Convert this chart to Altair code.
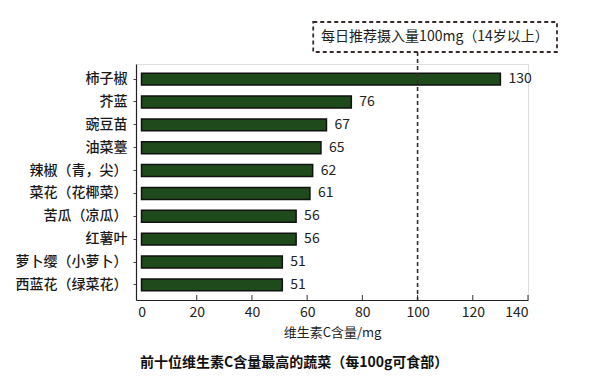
import altair as alt
import pandas as pd

names = ["柿子椒", "芥蓝", "豌豆苗", "油菜薹", "辣椒（青，尖）", "菜花（花椰菜）",
         "苦瓜（凉瓜）", "红薯叶", "萝卜缨（小萝卜）", "西蓝花（绿菜花）"]
values = [130, 76, 67, 65, 62, 61, 56, 56, 51, 51]
x_ticks = [0, 20, 40, 60, 80, 100, 120, 140]
ref_value = 100
ref_label = "每日推荐摄入量100mg（14岁以上）"

FONT = "Noto Sans CJK SC"
df = pd.DataFrame({"name": names, "value": values})

xscale = alt.Scale(domain=[-2, 140], nice=False, zero=False)
yscale = alt.Scale(domain=names, paddingInner=0.48, paddingOuter=0.4)

bars = alt.Chart(df).mark_bar(color="#1f4a1c", stroke="#111111", strokeWidth=1.5).encode(
    x=alt.X("value:Q", scale=xscale,
            axis=alt.Axis(values=x_ticks, title="维生素C含量/mg", grid=False, ticks=False,
                          labelFontSize=14, labelFont=FONT, labelColor="#222222", labelPadding=5,
                          titleFont=FONT, titleFontSize=13, titleFontWeight="normal",
                          titleColor="#222222", titlePadding=7,
                          domainColor="#222222", domainWidth=1.2)),
    x2=alt.datum(0),
    y=alt.Y("name:N", scale=yscale, sort=names,
            axis=alt.Axis(title=None, labelFontSize=14, labelFont=FONT, labelColor="#1a1a1a",
                          labelFontWeight=500, labelPadding=6, tickSize=3, tickColor="#444444",
                          domainColor="#222222", domainWidth=1.2)),
)

labels = alt.Chart(df).mark_text(align="left", dx=8, fontSize=14, font=FONT, color="#222222").encode(
    x=alt.X("value:Q", scale=xscale),
    y=alt.Y("name:N", scale=yscale, sort=names),
    text="value:Q",
)

tick_df = pd.DataFrame({"t": x_ticks[1:]})
ticks = alt.Chart(tick_df).mark_rule(color="#333333", strokeWidth=1).encode(
    x=alt.X("t:Q", scale=xscale),
    y=alt.value(231), y2=alt.value(236),
)

ref_df = pd.DataFrame({"v": [ref_value]})
ref_line = alt.Chart(ref_df).mark_rule(color="#3a2a2a", strokeWidth=1.6, strokeDash=[4, 3]).encode(
    x=alt.X("v:Q", scale=xscale),
    y=alt.value(-12), y2=alt.value(236),
)

box_df = pd.DataFrame({"x1": [62.2], "x2": [150.5], "xc": [106.3], "label": [ref_label]})
box = alt.Chart(box_df).mark_rect(fill="white", fillOpacity=0, stroke="#3a2a2a",
                                  strokeWidth=1.8, strokeDash=[4, 3]).encode(
    x=alt.X("x1:Q", scale=xscale), x2="x2:Q",
    y=alt.value(-42), y2=alt.value(-12),
)
box_text = alt.Chart(box_df).mark_text(fontSize=14, font=FONT, color="#222222").encode(
    x=alt.X("xc:Q", scale=xscale),
    y=alt.value(-27),
    text="label:N",
)

chart = alt.layer(bars, labels, ticks, ref_line, box, box_text).properties(
    width=392, height=236,
    autosize=alt.AutoSizeParams(type="none"),
    padding={"left": 128, "top": 56, "right": 64, "bottom": 79},
    title=alt.TitleParams(text="前十位维生素C含量最高的蔬菜（每100g可食部）", orient="bottom",
                          anchor="start", frame="group", fontSize=14, fontWeight="bold", font=FONT,
                          color="#111111", offset=17, dx=4),
).configure_view(stroke=None).configure(background="white")

chart.save("out.html", embed_options={"renderer": "svg", "actions": False})
